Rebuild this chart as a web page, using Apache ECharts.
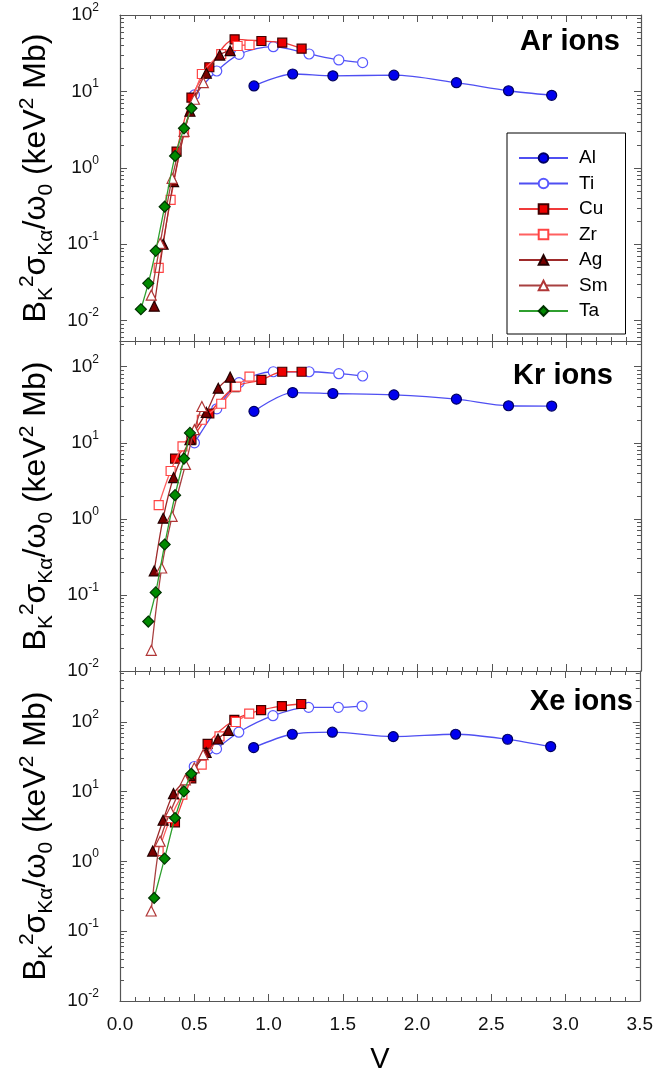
<!DOCTYPE html>
<html>
<head>
<meta charset="utf-8">
<script src="https://cdn.jsdelivr.net/npm/echarts@6.0.0/dist/echarts.min.js"></script>
<style>
html,body{margin:0;padding:0;background:#fff;}
#chart{width:656px;height:1080px;}
</style>
</head>
<body>
<div id="chart"></div>
<script>
// ---------------- data ----------------
const ELEMENTS = ['Al', 'Ti', 'Cu', 'Zr', 'Ag', 'Sm', 'Ta'];
const PANEL_TITLES = ['Ar ions', 'Kr ions', 'Xe ions'];
const X_TICK_LABELS = ['0.0', '0.5', '1.0', '1.5', '2.0', '2.5', '3.0', '3.5'];
const Y_MAJOR_TICKS = [0.01, 0.1, 1, 10, 100];

// shared velocities
const V_Al = [0.90, 1.16, 1.43, 1.84, 2.26, 2.61, 2.90];
const V_Ti = [0.50, 0.65, 0.80, 1.03, 1.27, 1.47, 1.63];

// Ar ions
const Ar_Al = [11.8, 16.9, 16.0, 16.3, 13.0, 10.2, 8.9];
const Ar_Ti = [9.0, 18.5, 30.6, 38.5, 30.9, 25.8, 23.8];
const Ar_V_Cu = [0.38, 0.48, 0.60, 0.77, 0.95, 1.09, 1.22];
const Ar_Cu = [1.63, 8.3, 20.7, 48.1, 45.7, 43.4, 36.2];
const Ar_V_Zr = [0.26, 0.34, 0.43, 0.55, 0.68, 0.79, 0.87];
const Ar_Zr = [0.049, 0.38, 2.9, 16.9, 30.8, 39.3, 40.5];
const Ar_V_Ag = [0.23, 0.29, 0.36, 0.47, 0.58, 0.67, 0.74];
const Ar_Ag = [0.0155, 0.10, 0.66, 5.5, 17.3, 29.9, 34.1];
const Ar_V_Sm = [0.21, 0.27, 0.35, 0.43, 0.50, 0.56];
const Ar_Sm = [0.0216, 0.103, 0.73, 3.0, 7.9, 13.0];
const Ar_V_Ta = [0.14, 0.19, 0.24, 0.30, 0.37, 0.43, 0.48];
const Ar_Ta = [0.0141, 0.0308, 0.082, 0.31, 1.43, 3.29, 6.0];

// Kr ions
const Kr_Al = [25.9, 45.8, 44.5, 42.7, 37.5, 30.7, 30.4];
const Kr_Ti = [10.0, 28.0, 61.8, 86.0, 86.0, 81.0, 75.6];
const Kr_V_Cu = [0.37, 0.48, 0.60, 0.77, 0.95, 1.09, 1.22];
const Kr_Cu = [6.2, 11.0, 24.3, 54.0, 67.0, 86.0, 86.0];
const Kr_V_Zr = [0.26, 0.34, 0.42, 0.55, 0.68, 0.78, 0.87];
const Kr_Zr = [1.52, 4.26, 9.0, 20.1, 32.6, 54.8, 74.0];
const Kr_V_Ag = [0.23, 0.29, 0.36, 0.47, 0.58, 0.66, 0.74];
const Kr_Ag = [0.207, 1.02, 3.49, 11.0, 25.1, 52.2, 73.0];
const Kr_V_Sm = [0.21, 0.28, 0.35, 0.44, 0.50, 0.55];
const Kr_Sm = [0.0187, 0.226, 1.08, 5.2, 14.9, 30.0];
const Kr_V_Ta = [0.19, 0.24, 0.30, 0.37, 0.43, 0.47];
const Kr_Ta = [0.0447, 0.108, 0.46, 2.05, 6.2, 13.5];

// Xe ions
const Xe_Al = [43.0, 66.7, 71.3, 61.7, 66.7, 56.5, 44.4];
const Xe_Ti = [23.0, 41.1, 71.3, 123, 162, 162, 169];
const Xe_V_Cu = [0.37, 0.48, 0.59, 0.77, 0.95, 1.09, 1.22];
const Xe_Cu = [3.64, 15.5, 48.5, 107, 148, 169, 181];
const Xe_V_Zr = [0.26, 0.34, 0.42, 0.55, 0.67, 0.78, 0.87];
const Xe_Zr = [1.41, 4.2, 9.1, 24.5, 62, 100, 132];
const Xe_V_Ag = [0.22, 0.29, 0.36, 0.47, 0.58, 0.66, 0.73];
const Xe_Ag = [1.41, 3.9, 9.4, 17.0, 36.5, 57, 76];
const Xe_V_Sm = [0.21, 0.27, 0.34, 0.44, 0.50, 0.56];
const Xe_Sm = [0.195, 1.95, 5.2, 14.8, 22, 34];
const Xe_V_Ta = [0.23, 0.30, 0.37, 0.43, 0.48];
const Xe_Ta = [0.30, 1.1, 4.2, 10.1, 18.1];

// y ranges of the three panels
const Y_RANGES = [[0.00542, 100], [0.01, 218], [0.01, 538]];

// ---------------- build ----------------
const PANEL_DATA = [
  {Al: [V_Al, Ar_Al], Ti: [V_Ti, Ar_Ti], Cu: [Ar_V_Cu, Ar_Cu], Zr: [Ar_V_Zr, Ar_Zr], Ag: [Ar_V_Ag, Ar_Ag], Sm: [Ar_V_Sm, Ar_Sm], Ta: [Ar_V_Ta, Ar_Ta]},
  {Al: [V_Al, Kr_Al], Ti: [V_Ti, Kr_Ti], Cu: [Kr_V_Cu, Kr_Cu], Zr: [Kr_V_Zr, Kr_Zr], Ag: [Kr_V_Ag, Kr_Ag], Sm: [Kr_V_Sm, Kr_Sm], Ta: [Kr_V_Ta, Kr_Ta]},
  {Al: [V_Al, Xe_Al], Ti: [V_Ti, Xe_Ti], Cu: [Xe_V_Cu, Xe_Cu], Zr: [Xe_V_Zr, Xe_Zr], Ag: [Xe_V_Ag, Xe_Ag], Sm: [Xe_V_Sm, Xe_Sm], Ta: [Xe_V_Ta, Xe_Ta]}
];

const STYLES = {
  Al: {symbol: 'circle', size: 10, fill: '#0000ee', border: '#000060', line: '#4f4ff2'},
  Ti: {symbol: 'circle', size: 10, fill: '#ffffff', border: '#5858ff', line: '#4f4ff2'},
  Cu: {symbol: 'rect', size: 9, fill: '#ee0000', border: '#400000', line: '#f03a3a'},
  Zr: {symbol: 'rect', size: 9, fill: '#ffffff', border: '#ff4444', line: '#ff6060'},
  Ag: {symbol: 'triangle', size: 10, fill: '#7a0000', border: '#250000', line: '#9e2a2a'},
  Sm: {symbol: 'triangle', size: 10, fill: '#ffffff', border: '#b03636', line: '#a84040'},
  Ta: {symbol: 'diamond', size: 11, fill: '#008a00', border: '#003300', line: '#2f9f2f'}
};

const FONT = '"Liberation Sans", Arial, Helvetica, sans-serif';
const AXIS_COLOR = '#555';
const GRID_TOPS = [15, 341, 671];
const GRID_HEIGHTS = [326, 330, 330];

function minorValues(min, max) {
  const out = [];
  for (let e = -4; e <= 3; e++) {
    for (let k = 2; k <= 9; k++) {
      const v = +(k * Math.pow(10, e)).toPrecision(3);
      if (v > min * 1.0001 && v < max * 0.9999) out.push(v);
    }
  }
  return out;
}

const grids = [], xAxes = [], yAxes = [], series = [], titles = [];
const yTitle = '{m|B}{b|K}{t|2}{m|σ}{b|Kα}{m|/ω}{b|0}{m| (keV}{t|2}{m| Mb)}';

PANEL_TITLES.forEach((pt, i) => {
  grids.push({left: 120, width: 521, top: GRID_TOPS[i], height: GRID_HEIGHTS[i], containLabel: false});
  const lineStyle = {color: AXIS_COLOR, width: 1.2};
  const tickStyle = {color: AXIS_COLOR, width: 1};
  const xBase = {
    type: 'value', gridIndex: i, min: 0, max: 3.5, interval: 0.5,
    splitLine: {show: false},
    axisLine: {show: true, onZero: false, lineStyle: lineStyle},
    axisTick: {show: true, inside: true, length: 7, lineStyle: tickStyle},
    minorTick: {show: true, splitNumber: 5, length: 4, lineStyle: tickStyle}
  };
  xAxes.push(Object.assign({}, xBase, {
    position: 'bottom',
    axisLabel: {
      show: i === 2, margin: 14, fontSize: 19, color: '#111', fontFamily: FONT,
      formatter: v => X_TICK_LABELS[Math.round(v / 0.5)]
    },
    name: i === 2 ? 'V' : '', nameLocation: 'middle', nameGap: 44,
    nameTextStyle: {fontSize: 29, color: '#000', fontFamily: FONT}
  }));
  xAxes.push(Object.assign({}, xBase, {position: 'top', axisLabel: {show: false}}));

  const [ymin, ymax] = Y_RANGES[i];
  const minors = minorValues(ymin, ymax);
  const yBase = {type: 'log', logBase: 10, gridIndex: i, min: ymin, max: ymax, splitLine: {show: false}};
  yAxes.push(Object.assign({}, yBase, {
    position: 'left',
    axisLine: {show: true, lineStyle: lineStyle},
    axisTick: {show: true, inside: true, length: 7, customValues: Y_MAJOR_TICKS, lineStyle: tickStyle},
    axisLabel: {
      show: true, customValues: Y_MAJOR_TICKS, margin: 21, fontFamily: FONT,
      formatter: v => '{n|10}{s|' + Math.round(Math.log10(v)) + '}',
      lineHeight: 23, padding: [0, 0, 4, 0],
      rich: {
        n: {fontSize: 19, color: '#111', fontFamily: FONT, verticalAlign: 'bottom'},
        s: {fontSize: 12, color: '#111', fontFamily: FONT, verticalAlign: 'top'}
      }
    },
    name: yTitle, nameLocation: 'middle', nameRotate: 90, nameGap: 55,
    nameTextStyle: {
      fontFamily: FONT, color: '#000',
      rich: {
        m: {fontSize: 32, lineHeight: 40, color: '#000', fontFamily: FONT, verticalAlign: 'middle'},
        b: {fontSize: 21, color: '#000', fontFamily: FONT, verticalAlign: 'bottom'},
        t: {fontSize: 21, color: '#000', fontFamily: FONT, verticalAlign: 'top'}
      }
    }
  }));
  yAxes.push(Object.assign({}, yBase, {
    position: 'left', axisLine: {show: false}, axisLabel: {show: false},
    axisTick: {show: true, inside: true, length: 4, customValues: minors, lineStyle: tickStyle}
  }));
  yAxes.push(Object.assign({}, yBase, {
    position: 'right', axisLine: {show: true, lineStyle: lineStyle}, axisLabel: {show: false},
    axisTick: {show: true, inside: true, length: 7, customValues: Y_MAJOR_TICKS, lineStyle: tickStyle}
  }));
  yAxes.push(Object.assign({}, yBase, {
    position: 'right', axisLine: {show: false}, axisLabel: {show: false},
    axisTick: {show: true, inside: true, length: 4, customValues: minors, lineStyle: tickStyle}
  }));

  ELEMENTS.forEach((el, k) => {
    const st = STYLES[el];
    const [vx, vy] = PANEL_DATA[i][el];
    series.push({
      type: 'line', name: el, xAxisIndex: 2 * i, yAxisIndex: 4 * i,
      data: vx.map((x, j) => [x, vy[j]]),
      smooth: 0.3,
      symbol: st.symbol, symbolSize: st.size, showAllSymbol: true,
      lineStyle: {color: st.line, width: 1.3},
      itemStyle: {color: st.fill, borderColor: st.border, borderWidth: 1.2},
      emphasis: {disabled: true},
      z: 2 + k
    });
  });
});

const TITLE_POS = [{right: 31, top: 22}, {right: 38, top: 356}, {right: 18, top: 682}];
PANEL_TITLES.forEach((t, i) => {
  titles.push(Object.assign({
    text: t,
    textStyle: {fontSize: 29, fontWeight: 'bold', color: '#000', fontFamily: FONT}
  }, TITLE_POS[i]));
});

const chart = echarts.init(document.getElementById('chart'), null, {renderer: 'canvas'});
chart.setOption({
  animation: false,
  backgroundColor: '#fff',
  textStyle: {fontFamily: FONT},
  title: titles,
  legend: {
    data: ELEMENTS, orient: 'vertical', left: 507, top: 133,
    itemWidth: 49, itemHeight: 12, itemGap: 5.5,
    borderColor: '#000', borderWidth: 1, padding: [15, 18, 13, 11],
    textStyle: {fontSize: 19, lineHeight: 20, color: '#000', fontFamily: FONT, padding: [0, 0, 0, 6]}
  },
  grid: grids,
  xAxis: xAxes,
  yAxis: yAxes,
  series: series
});
</script>
</body>
</html>
